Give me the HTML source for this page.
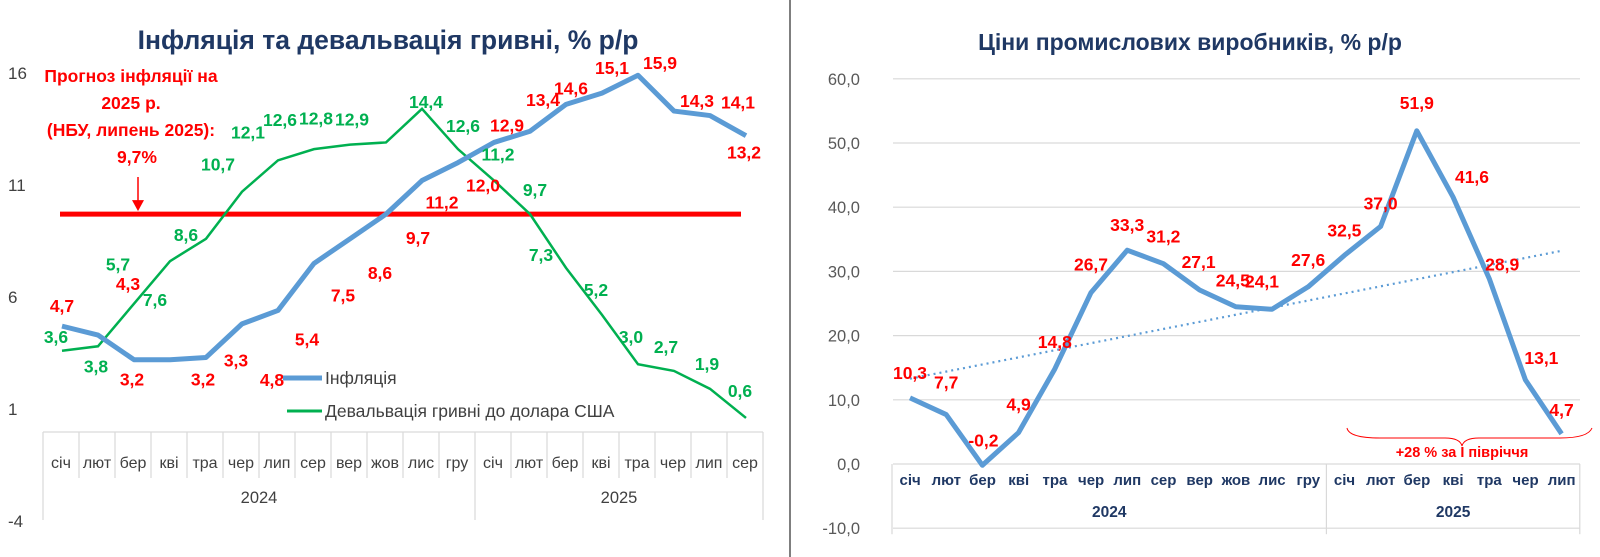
<!DOCTYPE html>
<html><head><meta charset="utf-8"><style>
html,body{margin:0;padding:0;background:#fff;}
svg{display:block;font-family:"Liberation Sans","DejaVu Sans",sans-serif;}
</style></head><body>
<svg id="c" width="1600" height="557" viewBox="0 0 1600 557" xmlns="http://www.w3.org/2000/svg">
<line x1="790" y1="0" x2="790" y2="557" stroke="#7f7f7f" stroke-width="2"/>
<text x="388" y="49" text-anchor="middle" font-size="26.5" font-weight="bold" fill="#1f3864">Інфляція та девальвація гривні, % р/р</text>
<text x="1190" y="50" text-anchor="middle" font-size="23" font-weight="bold" fill="#1f3864">Ціни промислових виробників, % р/р</text>
<g id="L"></g>
<g id="R"></g>
<g fill="#ff0000" font-weight="bold" font-size="17.5" text-anchor="middle">
<text x="131" y="82">Прогноз інфляції на</text>
<text x="131" y="109">2025 р.</text>
<text x="131" y="136">(НБУ, липень 2025):</text>
<text x="137" y="163">9,7%</text>
</g>
<g font-size="17.5" fill="#404040">
<line x1="283" y1="378" x2="322" y2="378" stroke="#5b9bd5" stroke-width="5"/>
<text x="325" y="384">Інфляція</text>
<line x1="287" y1="411" x2="322" y2="411" stroke="#00b050" stroke-width="3"/>
<text x="325" y="417">Девальвація гривні до долара США</text>
</g>
<g>
<path d="M1347,428 Q1349,438 1380,438 L1445,438 Q1460,438 1462,446 Q1464,438 1479,438 L1560,438 Q1588,438 1592,428" fill="none" stroke="#ff0000" stroke-width="1"/>
<text x="1462" y="457" text-anchor="middle" font-size="14.5" font-weight="bold" fill="#ff0000">+28 % за I півріччя</text>
</g>
</svg>
<script>
// LEFT chart data
const leftMonths = ["січ","лют","бер","кві","тра","чер","лип","сер","вер","жов","лис","гру","січ","лют","бер","кві","тра","чер","лип","сер"];
const leftYears = ["2024","2025"];
const inflation = [4.7,4.3,3.2,3.2,3.3,4.8,5.4,7.5,8.6,9.7,11.2,12.0,12.9,13.4,14.6,15.1,15.9,14.3,14.1,13.2];
const devaluation = [3.6,3.8,5.7,7.6,8.6,10.7,12.1,12.6,12.8,12.9,14.4,12.6,11.2,9.7,7.3,5.2,3.0,2.7,1.9,0.6];
const leftTicks = [16,11,6,1,-4];
const forecast = [9.7];
// RIGHT chart data
const rightMonths = ["січ","лют","бер","кві","тра","чер","лип","сер","вер","жов","лис","гру","січ","лют","бер","кві","тра","чер","лип"];
const rightYears = ["2024","2025"];
const ppi = [10.3,7.7,-0.2,4.9,14.8,26.7,33.3,31.2,27.1,24.5,24.1,27.6,32.5,37.0,51.9,41.6,28.9,13.1,4.7];
const rightTicks = [60,50,40,30,20,10,0,-10];

// label offsets (styling)
const infOff=[[0,-20],[30,-51],[-2,20],[33,20],[30,3],[30,56],[29,29],[29,32],[30,34],[32,24],[20,22],[25,23],[13,-17],[13,-31],[5,-16],[10,-25],[22,-12],[23,-10],[28,-13],[-2,17]];
const devOff=[[-6,-14],[-2,20],[-16,-39],[-15,39],[-20,-4],[-24,-27],[-30,-28],[-34,-29],[-34,-26],[-34,-23],[4,-7],[5,-23],[4,-26],[5,-24],[-25,-13],[-6,-25],[-7,-27],[-8,-24],[-3,-25],[-6,-27]];
const ppiOff=[[0,-25],[0,-32],[1,-25],[0,-28],[0,-27],[0,-28],[0,-25],[0,-27],[-1,-28],[-3,-26],[-10,-28],[0,-27],[0,-25],[0,-23],[0,-28],[19,-20],[13,-14],[16,-22],[0,-24]];

const NS="http://www.w3.org/2000/svg";
function mk(parent,tag,attrs,text){const e=document.createElementNS(NS,tag);for(const k in attrs)e.setAttribute(k,attrs[k]);if(text!==undefined)e.textContent=text;parent.appendChild(e);return e;}
const fmt=v=>v.toFixed(1).replace('.',',');

// LEFT axes
const lx=i=>62+36*i;
const ly=v=>409-(v-1)*22.4;
const L=document.getElementById('L');
leftTicks.forEach(t=>{
  const e=mk(L,'text',{x:8,y:ly(t)+6,'font-size':17,fill:'#404040'},String(t));
  
  
});
const cx0=43,cw=36,cTop=432,cBot=520;
const box=mk(L,'g',{stroke:'#d9d9d9','stroke-width':1.2});


mk(box,'line',{x1:cx0,y1:cTop,x2:cx0+cw*20,y2:cTop});
for(let i=0;i<=20;i++){const full=(i===0||i===12||i===20);mk(box,'line',{x1:cx0+cw*i,y1:cTop,x2:cx0+cw*i,y2:full?cBot:478});}
leftMonths.forEach((m,i)=>{
  const e=mk(L,'text',{x:cx0+cw*(i+0.5),y:468,'text-anchor':'middle','font-size':16,fill:'#404040'},m);
  
  
});
leftYears.forEach((y,k)=>{
  const x=k===0?cx0+cw*6:cx0+cw*16;
  const e=mk(L,'text',{x:x,y:503,'text-anchor':'middle','font-size':16.5,fill:'#404040'},y);
  
  
});
const fl=mk(L,'line',{x1:60,x2:741,y1:ly(forecast[0]),y2:ly(forecast[0]),stroke:'#ff0000','stroke-width':5});


const ar=mk(L,'g',{});


mk(ar,'line',{x1:138,y1:177,x2:138,y2:ly(forecast[0])-12,stroke:'#ff0000','stroke-width':1.5});
mk(ar,'path',{d:`M132,${ly(forecast[0])-14} L144,${ly(forecast[0])-14} L138,${ly(forecast[0])-3} Z`,fill:'#ff0000'});
const gp=mk(L,'polyline',{points:devaluation.map((v,i)=>lx(i)+','+ly(v)).join(' '),fill:'none',stroke:'#00b050','stroke-width':2.5});


const bp=mk(L,'polyline',{points:inflation.map((v,i)=>lx(i)+','+ly(v)).join(' '),fill:'none',stroke:'#5b9bd5','stroke-width':5,'stroke-linejoin':'round'});


devaluation.forEach((v,i)=>{
  const e=mk(L,'text',{x:lx(i)+devOff[i][0],y:ly(v)+devOff[i][1]+6,'text-anchor':'middle','font-size':17.5,'font-weight':'bold',fill:'#00b050'},fmt(v));
  
  
});
inflation.forEach((v,i)=>{
  const e=mk(L,'text',{x:lx(i)+infOff[i][0],y:ly(v)+infOff[i][1]+6,'text-anchor':'middle','font-size':17.5,'font-weight':'bold',fill:'#ff0000'},fmt(v));
  
  
});

// RIGHT chart
const rx=i=>910+36.2*i;
const ry=v=>464-v*6.42;
const R=document.getElementById('R');
rightTicks.forEach(t=>{
  const g=mk(R,'line',{x1:893,x2:1580,y1:ry(t),y2:ry(t),stroke:'#d9d9d9','stroke-width':1.2});
  
  
  const e=mk(R,'text',{x:860,y:ry(t)+6,'text-anchor':'end','font-size':16.5,fill:'#595959'},fmt(t));
  
  
});
const rb=mk(R,'g',{stroke:'#d9d9d9','stroke-width':1.2});


[0,12,19].forEach(i=>mk(rb,'line',{x1:892+36.2*i,x2:892+36.2*i,y1:ry(0),y2:ry(-10)+6}));
rightMonths.forEach((m,i)=>{
  const e=mk(R,'text',{x:892+36.2*(i+0.5),y:485,'text-anchor':'middle','font-size':15,'font-weight':'bold',fill:'#1f3864'},m);
  
  
});
rightYears.forEach((y,k)=>{
  const x=k===0?892+36.2*6:892+36.2*15.5;
  const e=mk(R,'text',{x:x,y:517,'text-anchor':'middle','font-size':15.5,'font-weight':'bold',fill:'#1f3864'},y);
  
  
});
const n=ppi.length;let sx=0,sy=0,sxy=0,sxx=0;
ppi.forEach((v,i)=>{sx+=i;sy+=v;sxy+=i*v;sxx+=i*i;});
const b=(n*sxy-sx*sy)/(n*sxx-sx*sx),a=(sy-b*sx)/n;
const tl=mk(R,'line',{x1:rx(0),y1:ry(a),x2:rx(n-1),y2:ry(a+b*(n-1)),stroke:'#5b9bd5','stroke-width':2.2,'stroke-dasharray':'2 4'});


const rp=mk(R,'polyline',{points:ppi.map((v,i)=>rx(i)+','+ry(v)).join(' '),fill:'none',stroke:'#5b9bd5','stroke-width':5,'stroke-linejoin':'round'});


ppi.forEach((v,i)=>{
  const e=mk(R,'text',{x:rx(i)+ppiOff[i][0],y:ry(v)+ppiOff[i][1]+6,'text-anchor':'middle','font-size':17.5,'font-weight':'bold',fill:'#ff0000'},fmt(v));
  
  
});
</script>
</body></html>
